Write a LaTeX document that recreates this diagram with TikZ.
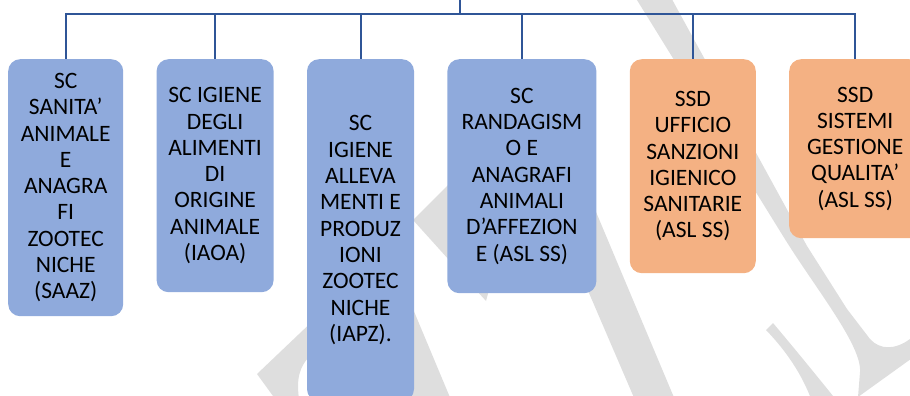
\documentclass[tikz,border=0pt]{standalone}
\usepackage{fontspec}
\setmainfont{Carlito}
\usetikzlibrary{positioning}
\definecolor{scblue}{HTML}{8FAADC}
\definecolor{ssdorange}{HTML}{F4B183}
\definecolor{linkblue}{HTML}{2F5597}
\definecolor{wmgray}{HTML}{DEDEDE}
\tikzset {
  % box of one unit
  unit node/.style = {
    rectangle,
    rounded corners = 12pt,
    inner sep = 0,
    align = center,
    text = black,
    font = \fontsize{23.5}{26.3}\selectfont
  },
  % complex unit (SC)
  sc unit/.style = {
    unit node,
    fill = scblue
  },
  % simple departmental unit (SSD)
  ssd unit/.style = {
    unit node,
    fill = ssdorange
  },
  link/.style = {
    draw = linkblue,
    line width = 2pt
  },
  watermark/.style = {
    fill = wmgray
  },
  node distance = 33pt
}

\begin{document}
\begin{tikzpicture}[x=1pt, y=-1pt]
    \useasboundingbox (0,0) rectangle (910,396);
    \clip (0,0) rectangle (910,396);

    % faded logo in the background
    \fill[watermark] (413,220) -- (455,178) -- (500,250) -- (486,301) -- cycle;
    \fill[watermark] (257,374) -- (340,295) -- (340,345) -- (308,358)
      .. controls (296,372) and (297,386) .. (300,407) -- (281,407) -- cycle;
    \fill[watermark] (380,230) -- (413,309) -- (454,407) -- (390,407) -- cycle;
    \fill[watermark] (549,200) -- (591,200) -- (678,407) -- (638,407) -- cycle;
    \fill[watermark] (632,-8) -- (783,236)
      .. controls (815,288) and (862,345) .. (860,372) -- (858,397)
      -- (915,356) -- (915,336) -- (910,339)
      .. controls (895,350) and (880,350) .. (870,339)
      -- (847,309) -- (807,246) -- (668,-8) -- cycle;
    \fill[watermark] (766,330) -- (773,323)
      .. controls (800,355) and (820,380) .. (842,407) -- (814,407)
      .. controls (805,380) and (790,355) .. cycle;

    \node[sc unit, minimum width=115pt, minimum height=257pt, anchor=north west] (saaz) at (8,59)
      {SC\\SANITA’\\ANIMALE\\E\\ANAGRA\\FI\\ZOOTEC\\NICHE\\(SAAZ)};
    \node[sc unit, minimum width=117pt, minimum height=233pt] (iaoa) [right=of saaz.north east, anchor=north west]
      {SC IGIENE\\DEGLI\\ALIMENTI\\DI\\ORIGINE\\ANIMALE\\(IAOA)};
    \node[sc unit, minimum width=107pt, minimum height=342pt] (iapz) [right=of iaoa.north east, anchor=north west]
      {SC\\IGIENE\\ALLEVA\\MENTI E\\PRODUZ\\IONI\\ZOOTEC\\NICHE\\(IAPZ).};
    \node[sc unit, minimum width=149pt, minimum height=234pt] (randagismo) [right=of iapz.north east, anchor=north west]
      {SC\\RANDAGISM\\O E\\ANAGRAFI\\ANIMALI\\D’AFFEZION\\E (ASL SS)};
    \node[ssd unit, minimum width=126pt, minimum height=214pt] (sanzioni) [right=of randagismo.north east, anchor=north west]
      {SSD\\UFFICIO\\SANZIONI\\IGIENICO\\SANITARIE\\(ASL SS)};
    \node[ssd unit, minimum width=132pt, minimum height=179pt] (qualita) [right=of sanzioni.north east, anchor=north west]
      {SSD\\SISTEMI\\GESTIONE\\QUALITA’\\(ASL SS)};

    \coordinate (root) at (460,0);
    \coordinate (bus) at (460,14);
    \draw[link] (root) -- (bus);
    \foreach \unit in {saaz,iaoa,iapz,randagismo,sanzioni,qualita}
      \draw[link] (bus) -| (\unit.north);
  \end{tikzpicture}
\end{document}
